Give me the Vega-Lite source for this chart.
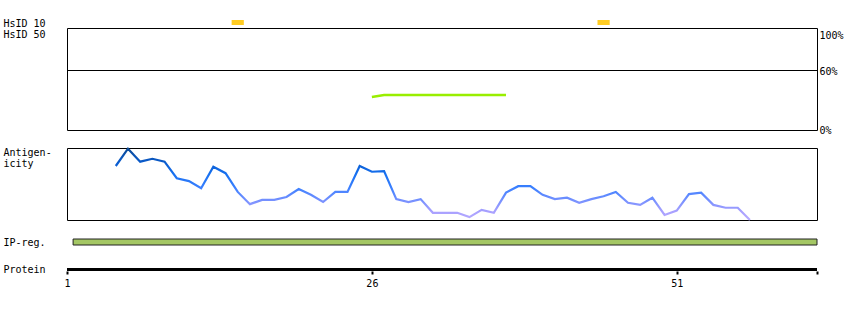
{
  "$schema": "https://vega.github.io/schema/vega-lite/v6.json",
  "padding": {"left": 2, "top": 18, "right": 0, "bottom": 0},
  "autosize": {"type": "pad"},
  "bounds": "flush",
  "spacing": 0,
  "config": {
    "view": {"stroke": null},
    "font": "DejaVu Sans Mono",
    "axis": {
      "labelFont": "DejaVu Sans Mono", "labelFontSize": 10, "labelColor": "#000000",
      "titleFont": "DejaVu Sans Mono", "titleFontSize": 10, "titleFontWeight": "normal", "titleColor": "#000000"
    }
  },
  "datasets": {
    "hsid10": [
      {"track": "HsID 10", "start": 14.5, "end": 15.5},
      {"track": "HsID 10", "start": 44.5, "end": 45.5}
    ],
    "hsid50": [
      {"pos": 26, "pct": 33}, {"pos": 27, "pct": 35}, {"pos": 28, "pct": 35}, {"pos": 29, "pct": 35},
      {"pos": 30, "pct": 35}, {"pos": 31, "pct": 35}, {"pos": 32, "pct": 35}, {"pos": 33, "pct": 35},
      {"pos": 34, "pct": 35}, {"pos": 35, "pct": 35}, {"pos": 36, "pct": 35}, {"pos": 37, "pct": 35}
    ],
    "threshold": [{"pct": 60}],
    "antigen": [
      {"pos": 5, "score": 0.75}, {"pos": 6, "score": 0.99}, {"pos": 7, "score": 0.81}, {"pos": 8, "score": 0.85},
      {"pos": 9, "score": 0.81}, {"pos": 10, "score": 0.58}, {"pos": 11, "score": 0.54}, {"pos": 12, "score": 0.44},
      {"pos": 13, "score": 0.74}, {"pos": 14, "score": 0.65}, {"pos": 15, "score": 0.39}, {"pos": 16, "score": 0.22},
      {"pos": 17, "score": 0.28}, {"pos": 18, "score": 0.28}, {"pos": 19, "score": 0.32}, {"pos": 20, "score": 0.43},
      {"pos": 21, "score": 0.35}, {"pos": 22, "score": 0.25}, {"pos": 23, "score": 0.39}, {"pos": 24, "score": 0.39},
      {"pos": 25, "score": 0.75}, {"pos": 26, "score": 0.67}, {"pos": 27, "score": 0.68}, {"pos": 28, "score": 0.29},
      {"pos": 29, "score": 0.25}, {"pos": 30, "score": 0.29}, {"pos": 31, "score": 0.10}, {"pos": 32, "score": 0.10},
      {"pos": 33, "score": 0.10}, {"pos": 34, "score": 0.04}, {"pos": 35, "score": 0.14}, {"pos": 36, "score": 0.10},
      {"pos": 37, "score": 0.38}, {"pos": 38, "score": 0.47}, {"pos": 39, "score": 0.47}, {"pos": 40, "score": 0.35},
      {"pos": 41, "score": 0.29}, {"pos": 42, "score": 0.31}, {"pos": 43, "score": 0.24}, {"pos": 44, "score": 0.29},
      {"pos": 45, "score": 0.33}, {"pos": 46, "score": 0.39}, {"pos": 47, "score": 0.24}, {"pos": 48, "score": 0.21},
      {"pos": 49, "score": 0.31}, {"pos": 50, "score": 0.07}, {"pos": 51, "score": 0.13}, {"pos": 52, "score": 0.36},
      {"pos": 53, "score": 0.38}, {"pos": 54, "score": 0.21}, {"pos": 55, "score": 0.17}, {"pos": 56, "score": 0.17},
      {"pos": 57, "score": 0.0}
    ],
    "ipreg": [{"track": "IP-reg.", "start": 1.5, "end": 62.5}],
    "protein": [{"track": "Protein", "start": 1, "end": 62.5}],
    "empty": []
  },
  "vconcat": [
    {
      "width": 750, "height": 5,
      "data": {"name": "hsid10"},
      "mark": {"type": "rect", "color": "#ffcc22"},
      "encoding": {
        "x": {"field": "start", "type": "quantitative", "scale": {"domain": [1, 62.5], "nice": false, "zero": false}, "axis": null},
        "x2": {"field": "end"},
        "y": {"field": "track", "type": "nominal", "scale": {"paddingInner": 0, "paddingOuter": 0},
              "axis": {"title": "HsID 10", "labels": false, "ticks": false, "tickSize": 0, "domain": false,
                       "titleAngle": 0, "titleAlign": "left", "titleBaseline": "alphabetic", "titleX": -64, "titleY": 6}}
      }
    },
    {"width": 750, "height": 3, "data": {"name": "empty"}, "mark": "point", "encoding": {}},
    {
      "width": 750, "height": 102,
      "view": {"stroke": "#000000", "strokeWidth": 1},
      "layer": [
        {
          "data": {"name": "threshold"},
          "mark": {"type": "rule", "color": "#000000", "strokeWidth": 1, "yOffset": 0.5},
          "encoding": {
            "y": {"field": "pct", "type": "quantitative", "scale": {"domain": [0, 102], "nice": false},
                  "axis": {"orient": "left", "title": "HsID 50", "labels": false, "ticks": false, "tickSize": 0, "domain": false, "grid": false,
                           "titleAngle": 0, "titleAlign": "left", "titleBaseline": "alphabetic", "titleX": -64, "titleY": 9}}
          }
        },
        {
          "data": {"name": "hsid50"},
          "mark": {"type": "line", "color": "#99ee00", "strokeWidth": 2.5},
          "encoding": {
            "x": {"field": "pos", "type": "quantitative", "scale": {"domain": [1, 62.5], "nice": false, "zero": false}, "axis": null},
            "y": {"field": "pct", "type": "quantitative", "scale": {"domain": [0, 102], "nice": false},
                  "axis": {"orient": "right", "values": [0, 60, 100], "labelExpr": "datum.value + '%'", "labelFlush": false,
                           "labelBaseline": {"condition": {"test": "datum.value == 100", "value": "top"}, "value": "middle"},
                           "labelOffset": {"condition": {"test": "datum.value == 60", "value": 1.5}, "value": 0},
                           "ticks": false, "tickSize": 0, "domain": false, "grid": false, "title": null, "labelPadding": 2}}
          }
        }
      ],
      "resolve": {"axis": {"y": "independent"}}
    },
    {"width": 750, "height": 18, "data": {"name": "empty"}, "mark": "point", "encoding": {}},
    {
      "width": 750, "height": 72,
      "view": {"stroke": "#000000", "strokeWidth": 1},
      "data": {"name": "antigen"},
      "mark": {
        "type": "line", "strokeWidth": 2.2,
        "color": {
          "gradient": "linear", "x1": 0, "y1": 0, "x2": 0, "y2": 1,
          "stops": [
            {"offset": 0, "color": "#0c4a96"},
            {"offset": 0.2, "color": "#0a5ccf"},
            {"offset": 0.35, "color": "#1670f0"},
            {"offset": 0.55, "color": "#3c80ff"},
            {"offset": 0.72, "color": "#7490ff"},
            {"offset": 0.88, "color": "#a8a0ff"},
            {"offset": 1, "color": "#b8acff"}
          ]
        }
      },
      "encoding": {
        "x": {"field": "pos", "type": "quantitative", "scale": {"domain": [1, 62.5], "nice": false, "zero": false}, "axis": null},
        "y": {"field": "score", "type": "quantitative", "scale": {"domain": [0, 1], "nice": false},
              "axis": {"title": ["Antigen-", "icity"], "labels": false, "ticks": false, "tickSize": 0, "domain": false, "grid": false,
                       "titleAngle": 0, "titleAlign": "left", "titleBaseline": "alphabetic", "titleX": -64, "titleY": 7, "titleLineHeight": 11}}
      }
    },
    {"width": 750, "height": 19, "data": {"name": "empty"}, "mark": "point", "encoding": {}},
    {
      "width": 750, "height": 6,
      "data": {"name": "ipreg"},
      "mark": {"type": "rect", "color": "#a4c764", "stroke": "#222222", "strokeWidth": 1},
      "encoding": {
        "x": {"field": "start", "type": "quantitative", "scale": {"domain": [1, 62.5], "nice": false, "zero": false}, "axis": null},
        "x2": {"field": "end"},
        "y": {"field": "track", "type": "nominal", "scale": {"paddingInner": 0, "paddingOuter": 0},
              "axis": {"title": "IP-reg.", "labels": false, "ticks": false, "tickSize": 0, "domain": false,
                       "titleAngle": 0, "titleAlign": "left", "titleBaseline": "alphabetic", "titleX": -64, "titleY": 6}}
      }
    },
    {"width": 750, "height": 23, "data": {"name": "empty"}, "mark": "point", "encoding": {}},
    {
      "width": 750, "height": 3,
      "data": {"name": "protein"},
      "mark": {"type": "rule", "color": "#000000", "strokeWidth": 3},
      "encoding": {
        "x": {"field": "start", "type": "quantitative", "scale": {"domain": [1, 62.5], "nice": false, "zero": false},
              "axis": {"orient": "bottom", "values": [1, 26, 51, 62.5], "labelExpr": "datum.value > 60 ? '' : datum.label",
                       "domain": false, "grid": false, "title": null, "tickColor": "#000000", "tickWidth": 2, "tickSize": 3,
                       "labelPadding": 4, "labelFlush": false}},
        "x2": {"field": "end"},
        "y": {"field": "track", "type": "nominal", "scale": {"paddingInner": 0, "paddingOuter": 0},
              "axis": {"title": "Protein", "labels": false, "ticks": false, "tickSize": 0, "domain": false,
                       "titleAngle": 0, "titleAlign": "left", "titleBaseline": "alphabetic", "titleX": -64, "titleY": 4}}
      }
    }
  ]
}
